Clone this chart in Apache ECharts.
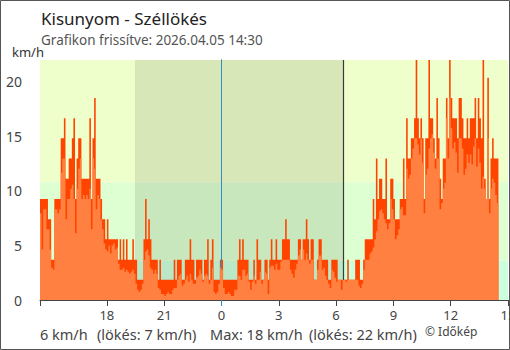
<!DOCTYPE html>
<html>
<head>
<meta charset="utf-8">
<title>Kisunyom - Széllökés</title>
<script src="https://cdn.jsdelivr.net/npm/echarts@6/dist/echarts.min.js"></script>
<style>
  html, body { margin: 0; padding: 0; background: #ffffff; }
  #chart { width: 510px; height: 350px; }
</style>
</head>
<body>
<div id="chart"></div>
<script>
// 5-minute readings, first one at 14:30 the previous day.
// Hours on the x axis are counted from midnight (negative = previous day).
const startHour = -9.5;
const stepHours = 5 / 60;

// Gusts and mean wind as reported by the station, in knots.
const gustKnots = [
  5,5,5,5,5,4,4,2,2,5,
  5,5,5,8,8,9,6,6,7,7,
  8,9,5,7,8,8,6,6,6,6,
  6,9,5,8,10,6,6,6,5,4,
  4,3,4,3,3,3,3,3,3,2,
  3,2,3,2,3,2,2,2,3,2,
  2,1,1,1,1,3,5,3,4,3,
  2,2,2,2,1,2,1,1,1,1,
  1,1,1,1,2,1,2,2,2,1,
  1,2,2,2,3,2,2,1,2,2,
  2,2,1,2,2,3,1,2,3,1,
  1,1,1,2,2,1,1,1,1,1,
  1,1,1,1,2,3,2,3,2,2,
  2,1,1,1,2,1,3,2,2,1,
  1,2,2,1,2,3,2,2,3,2,
  2,2,3,3,4,3,3,2,2,2,
  2,2,3,3,2,3,3,4,3,2,
  3,3,1,1,2,3,3,2,2,2,
  2,1,1,2,2,2,2,1,1,1,
  1,1,1,2,1,1,1,1,2,2,
  2,1,1,2,3,3,3,3,3,5,
  4,7,5,6,6,5,5,7,4,4,
  6,6,5,4,4,4,5,5,7,5,
  9,7,7,8,8,9,12,9,8,9,
  8,5,8,8,12,9,9,8,7,10,
  8,6,5,7,7,10,8,12,10,9,
  9,9,8,10,10,9,8,8,9,8,
  9,9,9,10,8,10,9,8,12,6,
  5,11,5,7,8,7,7,7
];
const meanKnots = [
  4.3,2.5,4.5,4.5,3.5,3.5,2.5,1.6,1.5,4.5,
  4.5,4.3,4.5,6.3,7,7,4,5,5,5.5,
  5.7,5,3.3,5.5,6.5,7,5,5.2,5,5.2,
  5,5.5,3.5,7,6.5,4.5,5.2,5,4,3.5,
  2.8,2.5,2.4,2.7,2.3,2.7,2.8,2.5,2.6,1.8,
  1.5,1.5,1.6,1.4,1.5,1.4,1.3,1.4,1.5,1.3,
  0.8,0.5,0.4,0.5,0.8,2,2.4,2.5,2.2,1.6,
  1.5,1.3,1.5,1.3,0.6,0.5,0.3,0.3,0.2,0.3,
  0.4,0.3,0.3,0.5,0.6,0.6,1,1.2,1.3,0.7,
  0.8,1,1.2,0.9,1.3,1,0.8,0.8,1.1,1.2,
  1.5,1.3,0.9,1.2,1.3,1.2,0.8,1,1.6,0.4,
  0.3,0.4,0.8,1.6,1.5,0.6,0.3,0.3,0.4,0.3,
  0.2,0.2,0.5,0.5,1.2,1.2,1,1.5,1.5,1.2,
  1.3,0.9,0.5,0.9,1.2,0.8,1,1,1.4,0.8,
  1,1.4,1.3,0.3,1.6,1.7,1.7,1.5,1.8,1.5,
  1.5,1.9,2,2,2,2,2,1.5,1.3,1.1,
  1.5,1.8,2.2,2.5,2,2.5,2,2.3,2,1.8,
  2,2,1,1,1.5,2.2,2.2,1.5,1.6,1.2,
  1,0.8,0.6,1.5,1.4,1.1,0.9,1,1,0.5,
  1,1,0.9,1,1,1,1,1,1,1,
  0.7,0.6,0.8,1.5,2,2,2,2.3,2.4,2.6,
  3,3.4,4,4.4,4.5,4.3,4,3.8,3.5,3.8,
  5,4.5,4,3,3.2,3.5,4.5,4.6,4.2,4.2,
  6.5,6,6.2,7,7.5,8,8,7.7,7.2,8,
  6.8,4.3,6.2,6.5,7.5,8,8.2,7.3,6.5,7,
  7,4.5,4.8,5.5,5.8,9,7,10,8.5,7.5,
  7.8,7.3,6.3,8,8,7.5,6.2,6.5,7.2,6.8,
  7.2,6.7,7.6,8,6.6,7.5,6.8,5.5,6.1,5.5,
  5,8,4.3,5.5,6,5.8,5.2,4.8
];
const KMH_PER_KNOT = 1.852;

// Wind strength bands (km/h) and their fill colours
const bandEdges = [0, 3.6, 10.8, 22];
const bandColors = ['#ccffdd', '#ddffd2', '#eeffcc'];

// Sunset / sunrise (hours from midnight)
const sunset = -4.53;
const sunrise = 6.4;

// Axis settings
const xMin = -9.5, xMax = 15;
const xTickValues = [-9.5, -6, -3, 3, 6, 9, 12, 15];
const xLabelValues = [-6, -3, 0, 3, 6, 9, 12, 15];
const yMax = 22;
const yTickValues = [0, 5, 10, 15, 20];

const titleText = 'Kisunyom - Széllökés';
const updatedText = 'Grafikon frissítve: 2026.04.05 14:30';
const unitText = 'km/h';
const footerParts = ['6 km/h', '(lökés: 7 km/h)', 'Max: 18 km/h', '(lökés: 22 km/h)'];
const creditText = '© Időkép';

const FONT = '"Noto Sans", "DejaVu Sans", sans-serif';
const MIDNIGHT_BLUE = '#2f8cc8';

function toSteps(values) {
  const pts = values.map((v, i) => [startHour + i * stepHours, +(v * KMH_PER_KNOT).toFixed(2)]);
  const last = values[values.length - 1];
  pts.push([startHour + values.length * stepHours, +(last * KMH_PER_KNOT).toFixed(2)]);
  return pts;
}

function vLine(name, x, color, width, z) {
  return {
    name, type: 'line', data: [], z, silent: true,
    markLine: {
      silent: true, symbol: 'none', label: { show: false },
      lineStyle: { color, width, type: 'solid', opacity: 1 },
      emphasis: { disabled: true },
      data: [{ xAxis: x }]
    }
  };
}

const chart = echarts.init(document.getElementById('chart'), null, { renderer: 'svg' });

const axisGray = '#444444';
const labelStyle = { color: '#444444', fontSize: 13, fontFamily: FONT };

chart.setOption({
  animation: false,
  backgroundColor: '#ffffff',
  grid: { left: 40, right: 2, top: 60, bottom: 50, containLabel: false, outerBoundsMode: 'none' },
  xAxis: [
    {
      type: 'value', min: xMin, max: xMax,
      axisLine: { show: true, lineStyle: { color: axisGray, width: 1 } },
      axisTick: { show: true, length: 6, customValues: xTickValues, lineStyle: { color: axisGray } },
      axisLabel: {
        show: true, customValues: xLabelValues, margin: 8, ...labelStyle,
        formatter: v => String((v + 24) % 24)
      },
      splitLine: { show: false }
    },
    {
      type: 'value', min: xMin, max: xMax, position: 'bottom',
      axisLine: { show: false },
      axisTick: { show: true, length: 6, customValues: [0], lineStyle: { color: MIDNIGHT_BLUE } },
      axisLabel: { show: false },
      splitLine: { show: false }
    }
  ],
  yAxis: [
    {
      type: 'value', min: 0, max: yMax,
      axisLine: { show: true, lineStyle: { color: axisGray } },
      axisTick: { show: true, length: 5, customValues: yTickValues, lineStyle: { color: axisGray } },
      axisLabel: { show: true, margin: 18, customValues: yTickValues, ...labelStyle, fontSize: 14 },
      splitLine: { show: false }
    },
    {
      type: 'value', min: 0, max: yMax, position: 'left',
      axisLine: { show: false },
      axisTick: { show: true, inside: true, length: 6, customValues: yTickValues, lineStyle: { color: axisGray } },
      axisLabel: { show: false },
      splitLine: { show: false }
    }
  ],
  series: [
    {
      name: 'bands', type: 'line', data: [], z: 1, silent: true,
      markArea: {
        silent: true,
        data: bandColors.map((c, i) => [
          { yAxis: bandEdges[i], itemStyle: { color: c, opacity: 1 } },
          { yAxis: bandEdges[i + 1] }
        ])
      }
    },
    {
      name: 'night', type: 'line', data: [], z: 2, silent: true,
      markArea: {
        silent: true,
        itemStyle: { color: 'rgba(30,20,0,0.1)' },
        data: [[{ xAxis: sunset }, { xAxis: sunrise }]]
      }
    },
    vLine('midnight', 0, MIDNIGHT_BLUE, 1, 3),
    vLine('sunrise', sunrise, '#3a3a3a', 1.2, 3),
    {
      name: 'Széllökés', type: 'line', step: 'end', symbol: 'none', z: 4,
      lineStyle: { width: 0 },
      areaStyle: { color: '#ff4400', opacity: 1 },
      data: toSteps(gustKnots)
    },
    {
      name: 'Átlagszél', type: 'line', step: 'end', symbol: 'none', z: 5,
      lineStyle: { width: 0 },
      areaStyle: { color: '#ff8040', opacity: 1 },
      data: toSteps(meanKnots)
    }
  ],
  graphic: [
    { type: 'text', x: 41, y: 18, style: { text: titleText, fontSize: 17, fontFamily: FONT, fill: '#222222', verticalAlign: 'middle' } },
    { type: 'text', x: 41, y: 40, style: { text: updatedText, fontSize: 13.5, fontFamily: FONT, fill: '#555555', verticalAlign: 'middle' } },
    { type: 'text', x: 12, y: 52, style: { text: unitText, fontSize: 13, fontFamily: FONT, fill: '#333333', verticalAlign: 'middle' } },
    { type: 'text', x: 40, y: 334, style: { text: footerParts[0], fontSize: 14.5, fontFamily: FONT, fill: '#444444', verticalAlign: 'middle' } },
    { type: 'text', x: 97, y: 334, style: { text: footerParts[1], fontSize: 14.5, fontFamily: FONT, fill: '#444444', verticalAlign: 'middle' } },
    { type: 'text', x: 210, y: 334, style: { text: footerParts[2], fontSize: 14.5, fontFamily: FONT, fill: '#444444', verticalAlign: 'middle' } },
    { type: 'text', x: 309, y: 334, style: { text: footerParts[3], fontSize: 14.5, fontFamily: FONT, fill: '#444444', verticalAlign: 'middle' } },
    { type: 'text', x: 425, y: 331, style: { text: creditText, fontSize: 12, fontFamily: FONT, fill: '#444444', verticalAlign: 'middle' } },
    { type: 'rect', silent: true, shape: { x: 0.5, y: 0.5, width: 509, height: 349 }, style: { fill: 'none', stroke: '#555555', lineWidth: 1 } }
  ]
});
</script>
</body>
</html>
